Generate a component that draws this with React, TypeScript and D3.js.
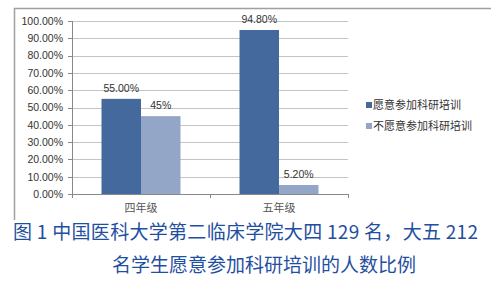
import React from "react";
import * as d3 from "d3";

const categories = ["四年级", "五年级"];
const seriesNames = ["愿意参加科研培训", "不愿意参加科研培训"];
const willing = [55.0, 94.8];
const unwilling = [45.0, 5.2];
const valueLabels = [["55.00%", "94.80%"], ["45%", "5.20%"]];
const yTicks = [0, 10, 20, 30, 40, 50, 60, 70, 80, 90, 100];
const captionLines = [
  "图 1 中国医科大学第二临床学院大四 129 名，大五 212",
  "名学生愿意参加科研培训的人数比例",
];

const colors = ["#44699c", "#93a6c8"];

export default function App() {
  const W = 491, H = 282;
  const plot = { left: 72, right: 348, top: 21, bottom: 194 };
  const y = d3.scaleLinear().domain([0, 100]).range([plot.bottom, plot.top]);
  const x = d3.scaleBand().domain(categories).range([plot.left, plot.right]).paddingInner(0).paddingOuter(0);
  const inner = d3.scaleBand().domain(["0", "1"]).range([0, x.bandwidth()]).paddingOuter(0.747).paddingInner(0);
  const series = [willing, unwilling];
  const num = "'Liberation Sans', Arial, sans-serif";
  const cjk = "'Noto Sans CJK SC', sans-serif";
  return (
    <svg width={W} height={H} style={{ position: "absolute", left: 0, top: 0, background: "#fff" }}>
      {/* border */}
      <path d={`M14.5,${H - 62} V8.5 H${W}`} fill="none" stroke="#a0a0a0" strokeWidth={1.5} />
      {/* grid */}
      {yTicks.map((t) => (
        <line key={"g" + t} x1={plot.left} x2={plot.right} y1={Math.round(y(t)) + 0.5} y2={Math.round(y(t)) + 0.5}
          stroke={t === 0 ? "#888" : "#c4c4c4"} strokeWidth={1} />
      ))}
      {/* y axis */}
      <line x1={plot.left + 0.5} x2={plot.left + 0.5} y1={plot.top} y2={plot.bottom + 4} stroke="#888" />
      {yTicks.map((t) => (
        <g key={"t" + t}>
          <line x1={plot.left - 4} x2={plot.left} y1={Math.round(y(t)) + 0.5} y2={Math.round(y(t)) + 0.5} stroke="#888" />
          <text x={63} y={y(t) + 3.8} textAnchor="end" fontFamily={num} fontSize={10.5} fill="#333">
            {t.toFixed(2)}%
          </text>
        </g>
      ))}
      {/* category ticks */}
      {[plot.left, plot.left + x.bandwidth(), plot.right].map((v, i) => (
        <line key={"c" + i} x1={Math.round(v) + 0.5} x2={Math.round(v) + 0.5} y1={plot.bottom} y2={plot.bottom + 4} stroke="#888" />
      ))}
      {/* bars */}
      {series.map((s, si) =>
        categories.map((c, ci) => {
          const bx = (x(c) as number) + (inner(String(si)) as number);
          const bw = inner.bandwidth();
          return (
            <g key={`b${si}${ci}`}>
              <rect x={bx} y={y(s[ci])} width={bw} height={plot.bottom - y(s[ci])} fill={colors[si]} />
              <text x={bx + bw / 2} y={y(s[ci]) - 7} textAnchor="middle" fontFamily={num} fontSize={10.5} fill="#333">
                {valueLabels[si][ci]}
              </text>
            </g>
          );
        })
      )}
      {/* x labels */}
      {categories.map((c) => (
        <text key={c} x={(x(c) as number) + x.bandwidth() / 2} y={212} textAnchor="middle" fontFamily={cjk} fontSize={11} fill="#555">
          {c}
        </text>
      ))}
      {/* legend */}
      {seriesNames.map((n, i) => (
        <g key={n}>
          <rect x={366} y={102 + i * 21} width={6} height={6} fill={colors[i]} />
          <text x={373} y={109 + i * 21} fontFamily={cjk} fontSize={11} fill="#333">{n}</text>
        </g>
      ))}
      {/* caption */}
      <text x={13} y={239} fontFamily={cjk} fontSize={19} fill="#1f4fa0" textLength={465} lengthAdjust="spacing">{captionLines[0]}</text>
      <text x={264} y={272} textAnchor="middle" fontFamily={cjk} fontSize={19} fill="#1f4fa0">{captionLines[1]}</text>
    </svg>
  );
}
